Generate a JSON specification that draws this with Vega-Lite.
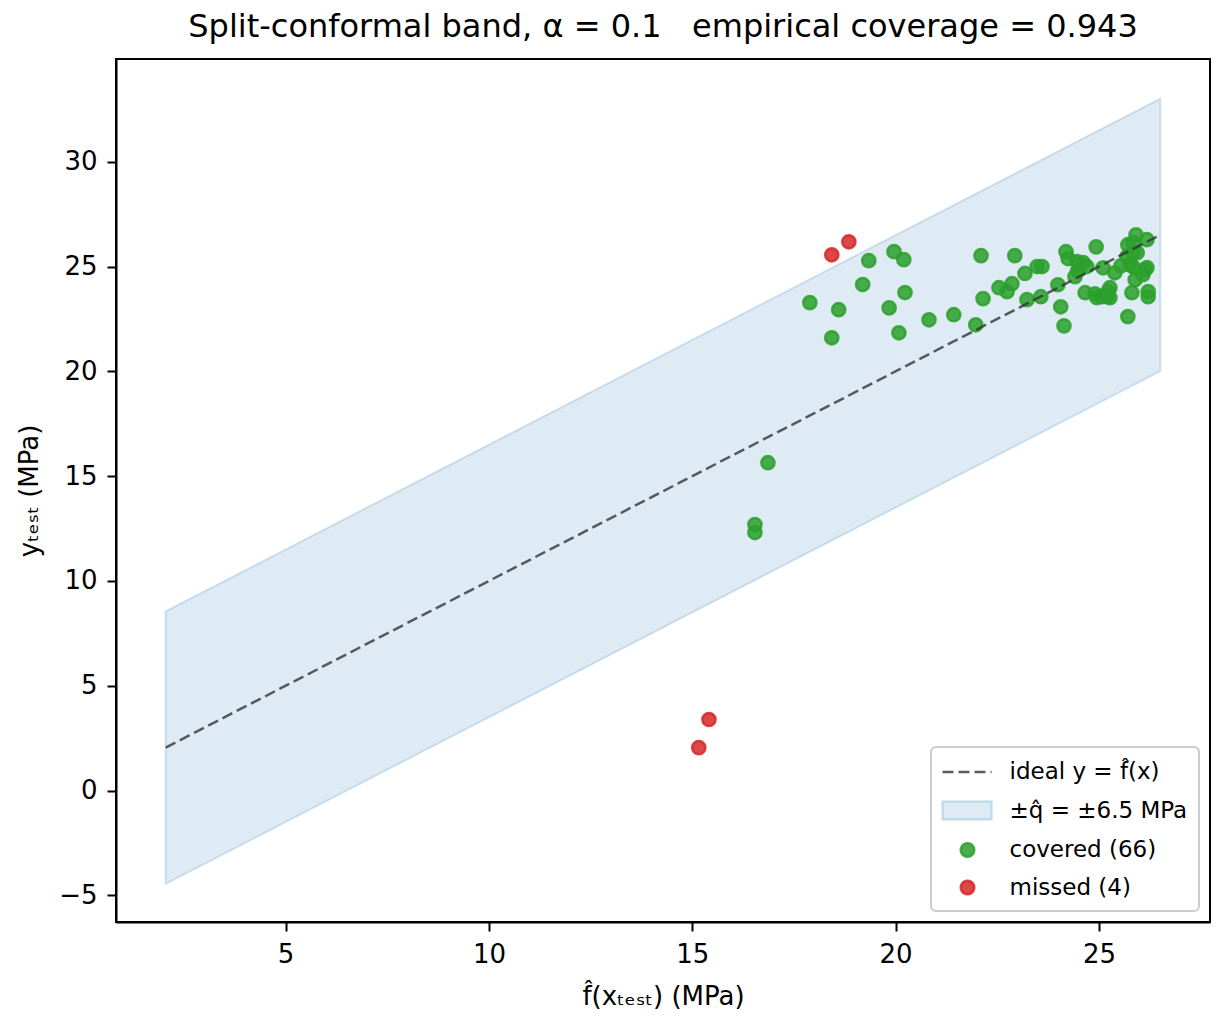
{
  "$schema": "https://vega.github.io/schema/vega-lite/v6.json",
  "width": 1094,
  "height": 863,
  "autosize": "none",
  "padding": {"left": 116, "top": 59, "right": 19, "bottom": 113},
  "background": "white",
  "config": {
    "font": "DejaVu Sans",
    "view": {"stroke": "black", "strokeWidth": 2},
    "axis": {
      "grid": false,
      "domainColor": "black",
      "domainWidth": 2,
      "tickColor": "black",
      "tickWidth": 2,
      "tickSize": 9,
      "labelFontSize": 26,
      "labelColor": "black",
      "labelPadding": 10,
      "titleFontSize": 26,
      "titleFontWeight": "normal",
      "titleColor": "black"
    }
  },
  "title": {
    "text": "Split-conformal band, α = 0.1\u00a0\u00a0\u00a0empirical coverage = 0.943",
    "fontSize": 32,
    "fontWeight": "normal",
    "color": "black",
    "anchor": "middle",
    "offset": 15
  },
  "datasets": {
    "band": [
      {"x": 2.05, "lo": -4.45, "hi": 8.55, "ideal": 2.05},
      {"x": 26.51, "lo": 20.01, "hi": 33.01, "ideal": 26.51}
    ],
    "pts": [
      {"pred": 19.34, "obs": 25.28, "status": "covered"},
      {"pred": 19.96, "obs": 25.71, "status": "covered"},
      {"pred": 20.20, "obs": 25.33, "status": "covered"},
      {"pred": 19.19, "obs": 24.14, "status": "covered"},
      {"pred": 20.23, "obs": 23.76, "status": "covered"},
      {"pred": 17.89, "obs": 23.28, "status": "covered"},
      {"pred": 18.60, "obs": 22.94, "status": "covered"},
      {"pred": 19.84, "obs": 23.03, "status": "covered"},
      {"pred": 20.82, "obs": 22.46, "status": "covered"},
      {"pred": 21.43, "obs": 22.70, "status": "covered"},
      {"pred": 21.97, "obs": 22.22, "status": "covered"},
      {"pred": 18.43, "obs": 21.60, "status": "covered"},
      {"pred": 20.08, "obs": 21.84, "status": "covered"},
      {"pred": 22.10, "obs": 25.52, "status": "covered"},
      {"pred": 22.15, "obs": 23.47, "status": "covered"},
      {"pred": 16.54, "obs": 12.69, "status": "covered"},
      {"pred": 16.54, "obs": 12.31, "status": "covered"},
      {"pred": 16.86, "obs": 15.64, "status": "covered"},
      {"pred": 22.93, "obs": 25.52, "status": "covered"},
      {"pred": 23.18, "obs": 24.67, "status": "covered"},
      {"pred": 23.48, "obs": 25.00, "status": "covered"},
      {"pred": 23.60, "obs": 25.00, "status": "covered"},
      {"pred": 22.54, "obs": 23.99, "status": "covered"},
      {"pred": 22.86, "obs": 24.18, "status": "covered"},
      {"pred": 22.74, "obs": 23.80, "status": "covered"},
      {"pred": 23.23, "obs": 23.42, "status": "covered"},
      {"pred": 23.57, "obs": 23.56, "status": "covered"},
      {"pred": 23.99, "obs": 24.13, "status": "covered"},
      {"pred": 24.06, "obs": 23.08, "status": "covered"},
      {"pred": 24.14, "obs": 22.17, "status": "covered"},
      {"pred": 24.19, "obs": 25.71, "status": "covered"},
      {"pred": 24.24, "obs": 25.38, "status": "covered"},
      {"pred": 24.46, "obs": 25.24, "status": "covered"},
      {"pred": 24.61, "obs": 25.19, "status": "covered"},
      {"pred": 24.48, "obs": 24.81, "status": "covered"},
      {"pred": 24.70, "obs": 25.00, "status": "covered"},
      {"pred": 24.41, "obs": 24.52, "status": "covered"},
      {"pred": 24.93, "obs": 25.94, "status": "covered"},
      {"pred": 24.66, "obs": 23.75, "status": "covered"},
      {"pred": 24.90, "obs": 23.70, "status": "covered"},
      {"pred": 24.95, "obs": 23.51, "status": "covered"},
      {"pred": 25.07, "obs": 23.56, "status": "covered"},
      {"pred": 25.20, "obs": 23.56, "status": "covered"},
      {"pred": 25.27, "obs": 23.99, "status": "covered"},
      {"pred": 25.22, "obs": 23.80, "status": "covered"},
      {"pred": 25.10, "obs": 24.94, "status": "covered"},
      {"pred": 25.39, "obs": 24.70, "status": "covered"},
      {"pred": 25.54, "obs": 25.03, "status": "covered"},
      {"pred": 25.71, "obs": 26.04, "status": "covered"},
      {"pred": 25.84, "obs": 26.13, "status": "covered"},
      {"pred": 25.91, "obs": 26.51, "status": "covered"},
      {"pred": 26.18, "obs": 26.28, "status": "covered"},
      {"pred": 25.69, "obs": 25.47, "status": "covered"},
      {"pred": 25.84, "obs": 25.66, "status": "covered"},
      {"pred": 25.94, "obs": 25.66, "status": "covered"},
      {"pred": 25.76, "obs": 25.09, "status": "covered"},
      {"pred": 25.84, "obs": 24.99, "status": "covered"},
      {"pred": 25.89, "obs": 24.37, "status": "covered"},
      {"pred": 25.81, "obs": 23.75, "status": "covered"},
      {"pred": 25.71, "obs": 22.61, "status": "covered"},
      {"pred": 26.13, "obs": 24.85, "status": "covered"},
      {"pred": 26.18, "obs": 24.95, "status": "covered"},
      {"pred": 26.08, "obs": 24.61, "status": "covered"},
      {"pred": 26.21, "obs": 23.80, "status": "covered"},
      {"pred": 26.21, "obs": 23.56, "status": "covered"},
      {"pred": 25.27, "obs": 23.51, "status": "covered"},
      {"pred": 18.43, "obs": 25.56, "status": "missed"},
      {"pred": 18.85, "obs": 26.18, "status": "missed"},
      {"pred": 15.16, "obs": 2.05, "status": "missed"},
      {"pred": 15.41, "obs": 3.39, "status": "missed"}
    ]
  },
  "layer": [
    {
      "data": {"name": "band"},
      "mark": {
        "type": "area",
        "color": "#1f77b4",
        "fillOpacity": 0.15,
        "stroke": "#1f77b4",
        "strokeOpacity": 0.18,
        "strokeWidth": 2
      },
      "encoding": {
        "x": {
          "field": "x",
          "type": "quantitative",
          "scale": {"domain": [0.83, 27.73], "nice": false, "zero": false},
          "axis": {"values": [5, 10, 15, 20, 25], "titlePadding": 16},
          "title": "f̂(xₜₑₛₜ) (MPa)"
        },
        "y": {
          "field": "lo",
          "type": "quantitative",
          "scale": {"domain": [-6.27, 34.9], "nice": false, "zero": false},
          "axis": {
            "values": [-5, 0, 5, 10, 15, 20, 25, 30],
            "labelExpr": "replace(datum.label, '-', '−')",
            "titlePadding": 16
          },
          "title": "yₜₑₛₜ (MPa)"
        },
        "y2": {"field": "hi"}
      }
    },
    {
      "data": {"name": "pts"},
      "mark": {
        "type": "point",
        "filled": true,
        "size": 175,
        "fillOpacity": 0.85,
        "strokeOpacity": 0.85,
        "strokeWidth": 2.5
      },
      "encoding": {
        "x": {"field": "pred", "type": "quantitative"},
        "y": {"field": "obs", "type": "quantitative"},
        "color": {
          "field": "status",
          "type": "nominal",
          "scale": {
            "domain": ["ideal", "band", "covered", "missed"],
            "range": ["#333333", "#1f77b4", "#2ca02c", "#d62728"]
          },
          "legend": {
            "title": null,
            "orient": "bottom-right",
            "offset": 11,
            "padding": 11.5,
            "rowPadding": 11.5,
            "labelOffset": 40,
            "labelFontSize": 23,
            "labelLimit": 400,
            "labelColor": "black",
            "symbolSize": 576,
            "fillColor": "rgba(255,255,255,0.8)",
            "strokeColor": "#cccccc",
            "cornerRadius": 5,
            "labelExpr": "datum.value === 'ideal' ? 'ideal y = f̂(x)' : datum.value === 'band' ? '±q̂ = ±6.5 MPa' : datum.value === 'covered' ? 'covered (66)' : 'missed (4)'",
            "encode": {
              "legend": {
                "update": {"strokeWidth": {"value": 2}}
              },
              "symbols": {
                "update": {
                  "shape": {"signal": "datum.value === 'ideal' ? 'M-1.125,0H2.96' : datum.value === 'band' ? 'M-1.125,-0.75H2.96V0.75H-1.125Z' : 'M0.4,0A0.56,0.56 0 1,0 1.52,0A0.56,0.56 0 1,0 0.4,0Z'"},
                  "fill": {"signal": "datum.value === 'ideal' ? 'transparent' : datum.value === 'band' ? '#1f77b4' : datum.value === 'covered' ? '#2ca02c' : '#d62728'"},
                  "fillOpacity": {"signal": "datum.value === 'band' ? 0.15 : 0.85"},
                  "stroke": {"signal": "datum.value === 'ideal' ? '#333333' : datum.value === 'band' ? '#1f77b4' : datum.value === 'covered' ? '#2ca02c' : '#d62728'"},
                  "strokeOpacity": {"signal": "datum.value === 'ideal' ? 0.8 : datum.value === 'band' ? 0.2 : 0.85"},
                  "strokeDash": {"signal": "datum.value === 'ideal' ? [11, 5] : [1, 0]"},
                  "strokeWidth": {"value": 2.5},
                  "size": {"value": 576},
                  "opacity": {"value": 1}
                }
              }
            }
          }
        },
        "stroke": {
          "field": "status",
          "type": "nominal",
          "scale": {
            "domain": ["ideal", "band", "covered", "missed"],
            "range": ["#333333", "#1f77b4", "#2ca02c", "#d62728"]
          },
          "legend": null
        }
      }
    },
    {
      "data": {"name": "band"},
      "mark": {
        "type": "line",
        "color": "#333333",
        "opacity": 0.8,
        "strokeWidth": 2.5,
        "strokeDash": [11, 5]
      },
      "encoding": {
        "x": {"field": "x", "type": "quantitative"},
        "y": {"field": "ideal", "type": "quantitative"}
      }
    }
  ]
}
